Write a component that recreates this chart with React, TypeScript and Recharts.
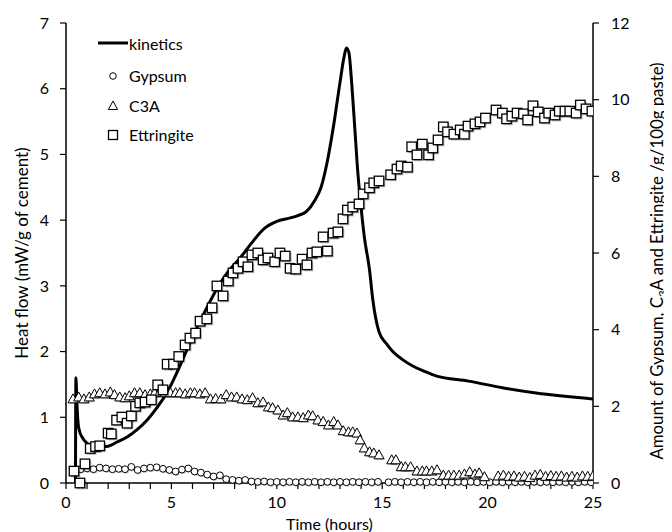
import React from 'react';
import { ComposedChart, Line, Scatter, XAxis, YAxis, Legend } from 'recharts';

// Heat flow (mW/g of cement) vs time (hours)
const kineticsTime = [0.45, 0.47, 0.52, 0.57, 0.65, 0.76, 0.95, 1.15, 1.6, 2.0, 2.4, 2.9, 3.4, 3.85, 4.3, 4.8, 5.1, 5.4, 6.0, 6.7, 7.2, 7.7, 8.2, 8.8, 9.4, 10.0, 10.6, 11.0, 11.4, 11.8, 12.1, 12.4, 12.7, 13.0, 13.2, 13.3, 13.42, 13.55, 13.7, 13.85, 13.95, 14.15, 14.4, 14.55, 14.85, 15.2, 15.5, 16.0, 16.45, 17.0, 17.55, 19.1, 20.7, 22.3, 25.0];
const kineticsHeat = [0, 1.6, 1.2, 0.92, 0.78, 0.7, 0.62, 0.58, 0.55, 0.56, 0.62, 0.7, 0.82, 0.96, 1.14, 1.38, 1.57, 1.78, 2.22, 2.68, 2.98, 3.22, 3.4, 3.65, 3.87, 3.98, 4.03, 4.07, 4.13, 4.3, 4.5, 4.9, 5.45, 6.1, 6.5, 6.62, 6.55, 6.1, 5.4, 4.7, 4.35, 3.75, 3.24, 2.8, 2.3, 2.12, 2.0, 1.87, 1.78, 1.7, 1.63, 1.55, 1.45, 1.37, 1.28];

// Amounts (g/100g paste): [time, amount]
const gypsum: [number, number][] = [
  [0.4, 0.32], [0.7, 0.36], [1.0, 0.38], [1.3, 0.36], [1.6, 0.4], [1.9, 0.38], [2.2, 0.36], [2.5, 0.37], [2.8, 0.36], [3.1, 0.42],
  [3.4, 0.34], [3.7, 0.38], [4.0, 0.4], [4.3, 0.41], [4.6, 0.37], [4.9, 0.34], [5.2, 0.3], [5.5, 0.35], [5.8, 0.38], [6.1, 0.3],
  [6.4, 0.27], [6.7, 0.22], [7.0, 0.17], [7.3, 0.2], [7.6, 0.1], [7.9, 0.08], [8.2, 0.06], [8.5, 0.08], [8.8, 0.04], [9.1, 0.03],
  [9.4, 0.04], [9.7, 0.02], [10.0, 0.03], [10.3, 0.02], [10.6, 0.03], [10.9, 0.02], [11.2, 0.03], [11.5, 0.02], [11.8, 0.03], [12.1, 0.02],
  [12.4, 0.03], [12.7, 0.02], [13.0, 0.03], [13.3, 0.02], [13.6, 0.03], [13.9, 0.02], [14.2, 0.03], [14.5, 0.02], [14.8, 0.03], [15.3, 0.02],
  [15.6, 0.03], [15.9, 0.02], [16.2, 0.03], [16.5, 0.02], [16.8, 0.03], [17.1, 0.02], [17.4, 0.03], [17.7, 0.02], [18.0, 0.03], [18.3, 0.02],
  [18.6, 0.03], [18.9, 0.02], [19.2, 0.03], [19.5, 0.02], [19.8, 0.03], [20.1, 0.02], [20.4, 0.03], [20.7, 0.02], [21.0, 0.03], [21.3, 0.02],
  [21.6, 0.03], [21.9, 0.02], [22.2, 0.03], [22.5, 0.02], [22.8, 0.03], [23.1, 0.02], [23.4, 0.03], [23.7, 0.02], [24.0, 0.03], [24.3, 0.02],
  [24.6, 0.03], [24.9, 0.02],
];

const c3a: [number, number][] = [
  [0.33, 2.19], [0.6, 2.24], [0.85, 2.19], [1.1, 2.24], [1.35, 2.32], [1.6, 2.35], [1.85, 2.32], [2.1, 2.37], [2.3, 2.3], [2.55, 2.24],
  [2.8, 2.22], [3.0, 2.27], [3.25, 2.35], [3.5, 2.35], [3.75, 2.3], [4.0, 2.32], [4.2, 2.35], [4.45, 2.37], [4.7, 2.35], [4.95, 2.35],
  [5.2, 2.35], [5.4, 2.35], [5.65, 2.32], [5.9, 2.35], [6.1, 2.35], [6.35, 2.32], [6.6, 2.35], [6.85, 2.19], [7.1, 2.2], [7.35, 2.19],
  [7.6, 2.3], [7.85, 2.24], [8.1, 2.24], [8.35, 2.19], [8.6, 2.17], [8.85, 2.22], [9.1, 2.09], [9.35, 2.11], [9.6, 1.98], [9.8, 1.96],
  [10.05, 1.9], [10.3, 1.77], [10.5, 1.83], [10.75, 1.72], [11.0, 1.72], [11.25, 1.7], [11.5, 1.77], [11.7, 1.75], [11.95, 1.64], [12.2, 1.6],
  [12.45, 1.51], [12.7, 1.6], [12.9, 1.51], [13.15, 1.36], [13.4, 1.33], [13.6, 1.33], [13.8, 1.3], [13.95, 1.12], [14.15, 0.91], [14.4, 0.81],
  [14.6, 0.78], [14.85, 0.73], [15.45, 0.6], [15.65, 0.6], [15.9, 0.42], [16.1, 0.42], [16.35, 0.42], [16.65, 0.31], [16.9, 0.31], [17.1, 0.31],
  [17.35, 0.31], [17.6, 0.34], [17.9, 0.2], [18.15, 0.2], [18.4, 0.2], [18.65, 0.2], [18.9, 0.23], [19.15, 0.29], [19.4, 0.23], [19.6, 0.26],
  [19.85, 0.16], [20.5, 0.18], [20.75, 0.2], [21.0, 0.17], [21.25, 0.18], [21.5, 0.15], [21.75, 0.17], [22.0, 0.14], [22.25, 0.2], [22.5, 0.22],
  [22.75, 0.17], [23.0, 0.19], [23.25, 0.17], [23.5, 0.18], [23.75, 0.15], [24.0, 0.17], [24.25, 0.15], [24.5, 0.18], [24.75, 0.17], [25.0, 0.18],
];

const ettringite: [number, number][] = [
  [0.38, 0.31], [0.66, 0.0], [0.9, 0.5], [1.15, 0.9], [1.4, 0.95], [1.6, 0.97], [2.0, 1.3], [2.15, 1.28], [2.4, 1.64], [2.65, 1.72],
  [2.9, 1.56], [3.1, 1.75], [3.3, 2.0], [3.5, 2.09], [3.75, 2.11], [4.05, 2.17], [4.35, 2.56], [4.6, 2.43], [4.8, 3.1], [5.1, 3.1],
  [5.35, 3.3], [5.65, 3.6], [5.88, 3.78], [6.15, 3.91], [6.36, 4.22], [6.68, 4.28], [6.93, 4.57], [7.16, 5.14], [7.45, 4.88], [7.7, 5.27],
  [7.92, 5.48], [8.16, 5.6], [8.4, 5.77], [8.63, 5.64], [8.82, 5.95], [9.1, 6.0], [9.35, 5.82], [9.58, 5.87], [9.9, 5.77], [10.15, 6.0],
  [10.4, 5.92], [10.63, 5.6], [10.9, 5.58], [11.2, 5.84], [11.43, 5.69], [11.67, 6.0], [11.9, 6.03], [12.2, 6.42], [12.4, 6.05], [12.67, 6.52],
  [12.9, 6.55], [13.14, 6.89], [13.35, 7.12], [13.6, 7.2], [13.9, 7.28], [14.1, 7.54], [14.4, 7.7], [14.6, 7.83], [14.85, 7.88], [15.4, 8.04],
  [15.7, 8.19], [15.9, 8.27], [16.2, 8.24], [16.4, 8.77], [16.65, 8.56], [16.9, 8.84], [17.2, 8.56], [17.4, 8.74], [17.65, 8.95], [17.9, 9.29],
  [18.1, 9.16], [18.4, 9.1], [18.7, 9.21], [18.9, 9.1], [19.07, 9.31], [19.4, 9.37], [19.64, 9.42], [19.9, 9.52], [20.4, 9.73], [20.7, 9.65],
  [20.9, 9.5], [21.15, 9.57], [21.4, 9.65], [21.7, 9.63], [21.9, 9.47], [22.15, 9.84], [22.4, 9.68], [22.7, 9.52], [22.9, 9.65], [23.2, 9.6],
  [23.4, 9.7], [23.67, 9.7], [23.9, 9.7], [24.2, 9.65], [24.4, 9.86], [24.67, 9.76], [24.95, 9.7],
];

const xTicks = [0, 1, 2, 3, 4, 5, 6, 7, 8, 9, 10, 11, 12, 13, 14, 15, 16, 17, 18, 19, 20, 21, 22, 23, 24, 25];
const leftTicks = [0, 1, 2, 3, 4, 5, 6, 7];
const rightTicks = [0, 2, 4, 6, 8, 10, 12];

const kineticsData = kineticsTime.map((t, i) => ({ t, v: kineticsHeat[i] }));
const toRows = (arr: [number, number][]) => arr.map(([t, v]) => ({ t, v }));

const FONT = 'Lato, "Open Sans", sans-serif';

const SquareShape = (p: any) => {
  const { cx, cy } = p;
  if (cx == null || cy == null) return null;
  const s = 9.5;
  return (
    <g>
      <rect x={cx - s / 2 + 1.6} y={cy - s / 2 + 1.6} width={s} height={s} fill="#000" opacity={0.28} />
      <rect x={cx - s / 2} y={cy - s / 2} width={s} height={s} fill="#fff" stroke="#000" strokeWidth={1.3} />
    </g>
  );
};

const TriangleShape = (p: any) => {
  const { cx, cy } = p;
  if (cx == null || cy == null) return null;
  const pts = (dx: number, dy: number) =>
    `${cx + dx},${cy - 5.2 + dy} ${cx + 5 + dx},${cy + 3.8 + dy} ${cx - 5 + dx},${cy + 3.8 + dy}`;
  return (
    <g>
      <polygon points={pts(1.2, 1.2)} fill="#000" opacity={0.2} />
      <polygon points={pts(0, 0)} fill="#fff" stroke="#000" strokeWidth={1} />
    </g>
  );
};

const CircleShape = (p: any) => {
  const { cx, cy } = p;
  if (cx == null || cy == null) return null;
  return (
    <g>
      <circle cx={cx + 1} cy={cy + 1} r={3.4} fill="#000" opacity={0.2} />
      <circle cx={cx} cy={cy} r={3.4} fill="#fff" stroke="#000" strokeWidth={1} />
    </g>
  );
};

const LegendContent = () => (
  <svg width={150} height={125} style={{ fontFamily: FONT, fontSize: 16 }}>
    <line x1={10} y1={20} x2={40} y2={20} stroke="#000" strokeWidth={3} />
    <text x={41} y={20} dominantBaseline="central" fill="#000">kinetics</text>
    <circle cx={25} cy={53} r={3.3} fill="#fff" stroke="#000" strokeWidth={1} />
    <text x={41} y={52} dominantBaseline="central" fill="#000">Gypsum</text>
    <polygon points="25,78 29.6,86.5 20.4,86.5" fill="#fff" stroke="#000" strokeWidth={1} />
    <text x={41} y={82} dominantBaseline="central" fill="#000">C3A</text>
    <rect x={20.5} y={107.5} width={9} height={9} fill="#fff" stroke="#000" strokeWidth={1.3} />
    <text x={41} y={111} dominantBaseline="central" fill="#000">Ettringite</text>
  </svg>
);

const LeftLabel = () => (
  <text
    x={20}
    y={245}
    transform="rotate(-90, 20, 245)"
    textAnchor="middle"
    fill="#000"
    style={{ fontFamily: FONT, fontSize: 17 }}
  >
    Heat flow (mW/g of cement)
  </text>
);

const RightLabel = () => (
  <text
    x={655}
    y={253}
    transform="rotate(-90, 655, 253)"
    textAnchor="middle"
    fill="#000"
    style={{ fontFamily: FONT, fontSize: 16.8 }}
  >
    Amount of Gypsum, C<tspan dy={4} fontSize={11.5}>3</tspan>
    <tspan dy={-4}>A and Ettringite /g/100g paste)</tspan>
  </text>
);

const XLabel = (props: any) => {
  const vb = props.viewBox || { x: 58, y: 475, width: 527, height: 49 };
  return (
    <text
      x={vb.x + vb.width / 2}
      y={vb.y + 47}
      textAnchor="middle"
      fill="#000"
      style={{ fontFamily: FONT, fontSize: 16 }}
    >
      Time (hours)
    </text>
  );
};

const tickStyle = { fill: '#000', fontSize: 16, fontFamily: FONT };

export default function App() {
  return (
    <ComposedChart
      width={664}
      height={524}
      margin={{ top: 15, right: 0, bottom: 0, left: 0 }}
      style={{ fontFamily: FONT }}
    >
      <XAxis
        type="number"
        dataKey="t"
        domain={[0, 25]}
        ticks={xTicks}
        interval={0}
        allowDataOverflow
        tickFormatter={(v: number) => (v % 5 === 0 ? String(v) : '')}
        tick={tickStyle}
        tickSize={6}
        tickMargin={8}
        height={49}
        axisLine={{ stroke: '#000', strokeWidth: 1.5 }}
        tickLine={{ stroke: '#000', strokeWidth: 1.2 }}
        label={{ content: (p: any) => <XLabel {...p} /> }}
      />
      <YAxis
        yAxisId="left"
        orientation="left"
        domain={[0, 7]}
        ticks={leftTicks}
        interval={0}
        width={58}
        tick={tickStyle}
        tickSize={6}
        tickMargin={11}
        axisLine={{ stroke: '#000', strokeWidth: 1.5 }}
        tickLine={{ stroke: '#000', strokeWidth: 1.2 }}
        label={{ content: () => <LeftLabel /> }}
      />
      <YAxis
        yAxisId="right"
        orientation="right"
        domain={[0, 12]}
        ticks={rightTicks}
        interval={0}
        width={79}
        tick={tickStyle}
        tickSize={6}
        tickMargin={12}
        axisLine={{ stroke: '#000', strokeWidth: 1.5 }}
        tickLine={{ stroke: '#000', strokeWidth: 1.2 }}
        label={{ content: () => <RightLabel /> }}
      />
      <Legend
        layout="vertical"
        align="center"
        verticalAlign="middle"
        wrapperStyle={{ left: 80, top: 15, width: 150, height: 125 }}
        content={() => <LegendContent />}
      />
      <Line
        yAxisId="left"
        data={kineticsData}
        dataKey="v"
        type="monotone"
        stroke="#000"
        strokeWidth={3}
        dot={false}
        isAnimationActive={false}
        name="kinetics"
      />
      <Scatter yAxisId="right" data={toRows(gypsum)} dataKey="v" name="Gypsum" shape={CircleShape} isAnimationActive={false} />
      <Scatter yAxisId="right" data={toRows(c3a)} dataKey="v" name="C3A" shape={TriangleShape} isAnimationActive={false} />
      <Scatter yAxisId="right" data={toRows(ettringite)} dataKey="v" name="Ettringite" shape={SquareShape} isAnimationActive={false} />
    </ComposedChart>
  );
}
